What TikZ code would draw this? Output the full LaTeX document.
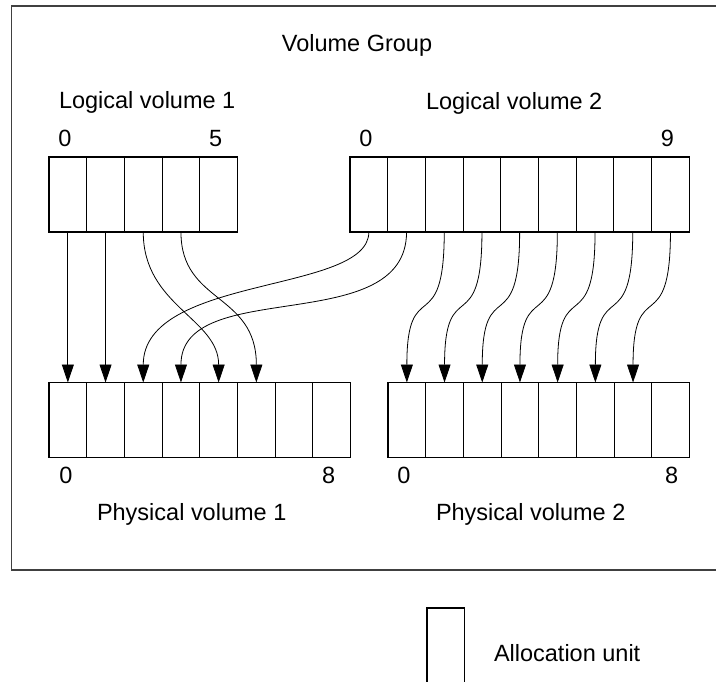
\documentclass[tikz,border=0pt]{standalone}
\usepackage{fontspec}
\setmainfont{Liberation Sans}
\usetikzlibrary{arrows.meta,positioning}

\tikzset{
  cell/.style={draw, line width=1.1pt, minimum width=37.7pt, minimum height=75pt, inner sep=0pt, outer sep=0pt},
  txt/.style={inner sep=0pt, outer sep=0pt, font=\fontsize{23.5}{27}\selectfont},
  map/.style={line width=0.8pt, -{Triangle[length=18pt,width=12pt]}},
}

\begin{document}
\begin{tikzpicture}[x=1pt,y=1pt]
\clip (0,0) rectangle (716,-682);

% the volume group
\draw [line width=1.2pt, black!75] (11.5,-6) rectangle (740,-570);
\node[txt, anchor=base] (vg) at (357,-51.5) {Volume Group};

\def\cw{37.7}
% logical volumes
\foreach \i in {0,...,4}
  \node[cell] (lvA-\i) at ({49+(\i+0.5)*\cw},-194.5) {};
\foreach \i in {0,...,8}
  \node[cell] (lvB-\i) at ({350+(\i+0.5)*\cw},-194.5) {};

% physical volumes
\foreach \i in {0,...,7}
{
  \node[cell] (pvA-\i) at ({49+(\i+0.5)*\cw},-420) {};
  \node[cell] (pvB-\i) at ({388+(\i+0.5)*\cw},-420) {};
}

% names and numbers
\node[txt, anchor=base west] (lvA-name) at (59,-109) {Logical volume 1};
\node[txt, anchor=base west] (lvB-name) at (426,-110) {Logical volume 2};
\node[txt, anchor=base] (lvA-first) at ([xshift=-3pt,yshift=10pt]lvA-0.north) {0};
\node[txt, anchor=base] (lvA-last)  at ([xshift=-3pt,yshift=10pt]lvA-4.north) {5};
\node[txt, anchor=base] (lvB-first) at ([xshift=-3pt,yshift=10pt]lvB-0.north) {0};
\node[txt, anchor=base] (lvB-last)  at ([xshift=-3pt,yshift=10pt]lvB-8.north) {9};

\node[txt, anchor=base] (pvA-first) at ([xshift=-2pt,yshift=-26pt]pvA-0.south) {0};
\node[txt, anchor=base] (pvA-last)  at ([xshift=-3pt,yshift=-26pt]pvA-7.south) {8};
\node[txt, anchor=base] (pvB-first) at ([xshift=-3pt,yshift=-26pt]pvB-0.south) {0};
\node[txt, anchor=base] (pvB-last)  at ([xshift=1pt,yshift=-26pt]pvB-7.south) {8};
\node[txt, anchor=base west] (pvA-name) at (97,-520) {Physical volume 1};
\node[txt, anchor=base west] (pvB-name) at (436,-520) {Physical volume 2};

% mapping of the allocation units
\foreach \a/\b in {0/0,1/1}
  \draw[map] (lvA-\a.south) -- (pvA-\b.north);
\foreach \a/\b/\u/\v in {2/4/74/64, 3/5/72/90}
  \draw[map] (lvA-\a.south) .. controls +(0,-\u) and +(0,\v) .. (pvA-\b.north);
\foreach \a/\b/\u/\v in {0/2/62/108, 1/3/107/107}
  \draw[map] (lvB-\a.south) .. controls +(0,-\u) and +(0,\v) .. (pvA-\b.north);
\foreach \i [evaluate=\i as \j using int(\i+2)] in {0,...,6}
  \draw[map] (lvB-\j.south) .. controls +(0,-110) and +(0,110) .. (pvB-\i.north);

% legend
\node[cell, anchor=north west] (unit) at (427,-608) {};
\node[txt, anchor=base west] (unit-name) at (494,-661) {Allocation unit};
\end{tikzpicture}
\end{document}
